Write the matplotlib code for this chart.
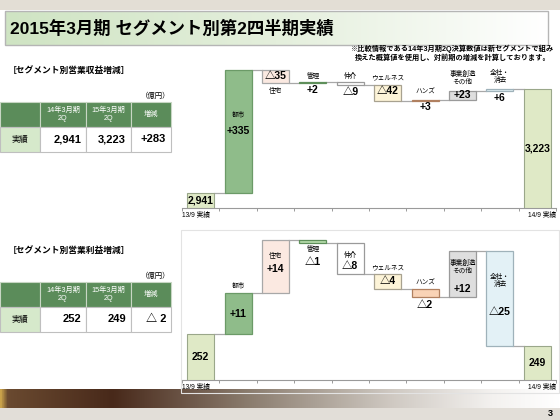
import numpy as np
import matplotlib
matplotlib.use('Agg')
import matplotlib.pyplot as plt
from matplotlib.colors import LinearSegmentedColormap
from matplotlib.patches import Rectangle

plt.rcParams['font.family'] = ['Liberation Sans', 'Noto Sans CJK JP']

# data
segments = ['都市', '住宅', '管理', '仲介', 'ウェルネス', 'ハンズ', '事業創造\nその他', '全社・\n消去']
rev_start, rev_end = 2941, 3223
rev_delta = [335, -35, 2, -9, -42, 3, 23, 6]
op_start, op_end = 252, 249
op_delta = [11, 14, -1, -8, -4, -2, 12, -25]
table_cols = ['14年3月期\n2Q', '15年3月期\n2Q', '増減']
rev_table = ['2,941', '3,223', '+283']
op_table = ['252', '249', '△ 2']
start_label, end_label = '13/9 実績', '14/9 実績'

seg_fill = ['#8fbc8a', '#fbe9e1', '#b5dbab', '#ffffff', '#fdf4d8', '#f9d3b6', '#dedede', '#e3f1f6']
seg_edge = ['#6b9a67', '#a8a8a8', '#5e8f5a', '#9a9a9a', '#a8a290', '#b08060', '#9a9a9a', '#9fb2ba']
tot_fill, tot_edge = '#dfe9c6', '#9aa78a'

W, H = 560, 420
fig = plt.figure(figsize=(5.6, 4.2), dpi=100)


def box(x0, y0, x1, y1):
    return fig.add_axes([x0 / W, 1 - y1 / H, (x1 - x0) / W, (y1 - y0) / H])


def ftext(x, y, s, **kw):
    return fig.text(x / W, 1 - y / H, s, **kw)


def gradient(x0, y0, x1, y1, colors, z=0):
    ax = box(x0, y0, x1, y1)
    cmap = LinearSegmentedColormap.from_list('g', colors)
    ax.imshow(np.linspace(0, 1, 256)[None, :], aspect='auto', cmap=cmap,
              extent=[0, 1, 0, 1])
    ax.set_axis_off()
    ax.set_zorder(z)
    return ax


def rect(x0, y0, x1, y1, **kw):
    fig.patches.append(Rectangle((x0 / W, 1 - y1 / H), (x1 - x0) / W, (y1 - y0) / H,
                                 transform=fig.transFigure, **kw))


# slide decoration
rect(0, 0, 560, 10, color='#e3ded5', lw=0)
gradient(5, 11, 548, 45, ['#cfe4c3', '#e4efdc', '#ffffff'])
rect(5, 11, 548, 45, fill=False, ec='#b5b5b5', lw=1.0)
ftext(10, 28, '2015年3月期 セグメント別第2四半期実績', size=12.5, weight='bold',
      va='center', ha='left')
ftext(453, 53, '※比較情報である14年3月期2Q決算数値は新セグメントで組み\n'
      '換えた概算値を使用し、対前期の増減を計算しております。',
      size=5.2, weight='bold', ha='center', va='center', linespacing=1.3)
gradient(0, 389, 560, 408, [(0, '#c9a24a'), (0.012, '#6a4a30'), (0.2, '#48291a'),
                            (0.45, '#8c7e70'), (0.7, '#cfc9c2'), (0.88, '#f3f1ef'),
                            (1, '#ffffff')])
rect(0, 408, 560, 420, color='#e2ded8', lw=0)
ftext(553, 414, '3', size=6.5, weight='bold', ha='right', va='center')


def table(title, top, vals):
    ftext(8, top - 32, title, size=6.3, weight='bold', va='center')
    ftext(170, top - 6, '（億円）', size=5.3, ha='right', va='center')
    edges = [0, 40, 86, 131, 171]
    for c in range(4):
        x0, x1 = edges[c], edges[c + 1]
        rect(x0, top, x1, top + 25, fc='#5b8c5a', ec='#c8d6c4', lw=0.8)
        rect(x0, top + 25, x1, top + 50, fc='#d6e9cb' if c == 0 else 'white',
             ec='#bfbfbf', lw=0.8)
        if c > 0:
            ftext((x0 + x1) / 2, top + 12.5, table_cols[c - 1], size=5.2, color='white',
                  ha='center', va='center', linespacing=1.1)
            ftext(x1 - 5, top + 37.5, vals[c - 1], size=8, weight='bold',
                  ha='right', va='center')
    ftext(20, top + 37.5, '実績', size=6, ha='center', va='center')


table('［セグメント別営業収益増減］', 102, rev_table)
table('［セグメント別営業利益増減］', 282, op_table)


def fmt(v):
    return ('+' if v > 0 else '△') + '{:,}'.format(abs(v))


def waterfall(ax, start, deltas, end, ylo, yhi, name_pos, val_pos):
    n = len(deltas)
    w = 0.72
    ax.set_xlim(-0.5, n + 1.5)
    ax.set_ylim(ylo, yhi)
    levels = np.concatenate([[start], start + np.cumsum(deltas)])
    ax.bar(0, start - ylo, bottom=ylo, width=w, color=tot_fill, edgecolor=tot_edge,
           lw=0.8, zorder=3)
    ax.bar(n + 1, end - ylo, bottom=ylo, width=w, color=tot_fill, edgecolor=tot_edge,
           lw=0.8, zorder=3)
    for i, d in enumerate(deltas):
        lo = min(levels[i], levels[i + 1])
        ax.bar(i + 1, abs(d), bottom=lo, width=w, color=seg_fill[i],
               edgecolor=seg_edge[i], lw=0.9, zorder=3)
    for i, lv in enumerate(levels):
        ax.plot([i + w / 2, i + 1 - w / 2], [lv, lv], color='#a8a8a8', lw=0.9, zorder=2)

    def put(x, y, dy, s, **kw):
        ax.annotate(s, (x, y), xytext=(0, -dy * 0.72), textcoords='offset points',
                    ha='center', va='center', zorder=5, linespacing=1.15, **kw)

    def anchor(i, a):
        hi, lo = max(levels[i], levels[i + 1]), min(levels[i], levels[i + 1])
        return {'top': hi, 'bottom': lo, 'center': (hi + lo) / 2}[a]

    for i, d in enumerate(deltas):
        a, dy = name_pos[i]
        put(i + 1, anchor(i, a), dy, segments[i], size=4.8)
        a, dy = val_pos[i]
        put(i + 1, anchor(i, a), dy, fmt(d), size=7.5, weight='bold')
    put(0, (start + ylo) / 2, 0, '{:,}'.format(start), size=7.5, weight='bold')
    put(n + 1, (end + ylo) / 2, 0, '{:,}'.format(end), size=7.5, weight='bold')

    for s in ['top', 'left', 'right']:
        ax.spines[s].set_visible(False)
    ax.spines['bottom'].set_color('#9a9a9a')
    ax.spines['bottom'].set_linewidth(0.8)
    ax.set_xticks(np.arange(-0.5, n + 2))
    ax.set_xticklabels([])
    ax.set_yticks([])
    ax.tick_params(axis='x', length=2, color='#9a9a9a', width=0.7)
    ax.patch.set_alpha(0)
    ax.annotate(start_label, (-0.5, 0), xycoords=('data', 'axes fraction'),
                xytext=(0, -3), textcoords='offset points', ha='left', va='top', size=4.8)
    ax.annotate(end_label, (n + 1.5, 0), xycoords=('data', 'axes fraction'),
                xytext=(0, -3), textcoords='offset points', ha='right', va='top', size=4.8)


rect(181, 230, 559, 393, fill=False, ec='#e3e3e3', lw=0.8)

ax1 = box(182, 60, 556, 208)
waterfall(ax1, rev_start, rev_delta, rev_end, 2900, 3303,
          [('center', -16), ('bottom', 9), ('top', -6), ('top', -6),
           ('top', -8), ('top', -7), ('top', -13), ('top', -12)],
          [('center', 0), ('center', 0), ('bottom', 7), ('bottom', 7),
           ('top', 6), ('bottom', 6), ('center', 0), ('bottom', 7)])

ax2 = box(182, 232, 556, 380)
waterfall(ax2, op_start, op_delta, op_end, 240, 279,
          [('top', -6), ('top', 17), ('bottom', 6), ('top', 12),
           ('top', -6), ('top', -6), ('top', 16), ('top', 30)],
          [('center', 0), ('top', 29), ('bottom', 19), ('top', 23),
           ('center', 0), ('bottom', 8), ('top', 38), ('top', 61)])

fig.savefig('out.png', dpi=100)
